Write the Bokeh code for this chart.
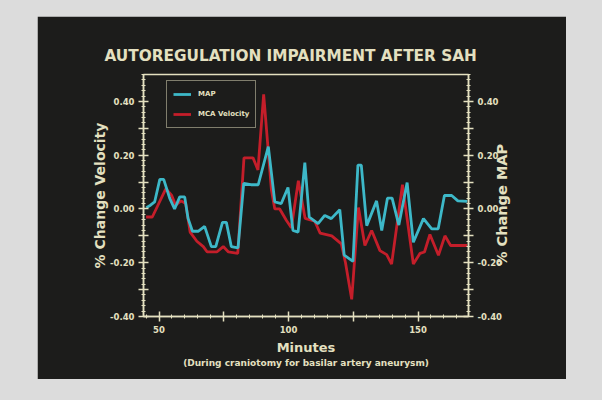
import math
from bokeh.plotting import figure
from bokeh.models import LinearAxis, Range1d, FixedTicker, Legend, LegendItem, Title
from bokeh.embed import file_html
from bokeh.resources import INLINE

# ---------------- data ----------------
title_text = "AUTOREGULATION  IMPAIRMENT  AFTER  SAH"
x_label = "Minutes"
subtitle_text = "(During craniotomy for basilar artery aneurysm)"
left_label = "% Change Velocity"
right_label = "% Change MAP"

map_minutes = [45.1, 46.7, 48.3, 50.3, 51.8, 54.1, 56.0, 58.0, 59.9, 61.2, 62.9, 65.1,
               67.6, 70.2, 71.9, 74.5, 76.0, 77.9, 80.5, 82.7, 85.5, 88.3, 92.2, 94.7,
               97.2, 99.8, 101.7, 103.7, 106.3, 108.0, 111.4, 114.0, 116.5, 119.8, 121.5,
               124.9, 126.8, 128.1, 130.2, 134.0, 136.0, 138.2, 140.0, 142.6, 145.8, 148.2,
               152.1, 155.3, 157.8, 160.2, 163.0, 165.4, 169.0]
map_values = [0.005, 0.014, 0.026, 0.110, 0.110, 0.040, 0.000, 0.045, 0.045, -0.035, -0.083, -0.083,
              -0.065, -0.140, -0.140, -0.050, -0.050, -0.140, -0.145, 0.095, 0.090, 0.090, 0.232, 0.026,
              0.020, 0.080, -0.080, -0.086, 0.172, -0.030, -0.055, -0.024, -0.036, -0.003, -0.172,
              -0.195, 0.163, 0.163, -0.062, 0.030, -0.080, 0.040, 0.040, -0.060, 0.098, -0.124,
              -0.036, -0.074, -0.074, 0.050, 0.050, 0.030, 0.028]

mca_minutes = [45.0, 47.4, 52.6, 54.9, 56.4, 58.5, 60.3, 62.0, 64.6, 67.1, 68.6, 72.3, 74.8,
               76.8, 80.4, 82.8, 86.3, 88.2, 90.4, 93.4, 94.7, 96.6, 99.2, 101.1, 103.8,
               106.4, 110.1, 112.2, 116.7, 120.4, 122.0, 124.4, 127.0, 129.5, 132.1, 135.3,
               137.9, 139.8, 144.0, 148.2, 150.8, 152.5, 154.6, 157.9, 160.4, 162.6, 169.0]
mca_values = [-0.030, -0.030, 0.075, 0.050, 0.014, 0.030, 0.020, -0.086, -0.120, -0.140, -0.160, -0.160, -0.140,
              -0.160, -0.165, 0.190, 0.190, 0.145, 0.426, 0.070, 0.000, 0.000, -0.043, -0.070, 0.105,
              -0.035, -0.045, -0.090, -0.100, -0.130, -0.200, -0.336, 0.005, -0.136, -0.080, -0.155,
              -0.170, -0.205, 0.090, -0.205, -0.165, -0.160, -0.095, -0.172, -0.100, -0.136, -0.136]

x_ticks = [50, 75, 100, 125, 150]
x_tick_labels = ["50", "", "100", "", "150"]
x_minor = [45, 50, 55, 60, 65, 70, 75, 80, 85, 90, 95, 100, 105, 110, 115, 120, 125,
           130, 135, 140, 145, 150, 155, 160, 165]
y_ticks = [-0.4, -0.3, -0.2, -0.1, 0.0, 0.1, 0.2, 0.3, 0.4]
y_tick_labels = ["-0.40", "", "-0.20", "", "0.00", "", "0.20", "", "0.40"]
y_minor = [round(-0.4 + 0.02 * i, 2) for i in range(46)]

# ---------------- style ----------------
SLIDE = "#1c1c1b"
CREAM = "#e4e0c0"
CYAN = "#3db8c8"
RED = "#c41e2a"
FONT = "DejaVu Sans"

p = figure(width=529, height=363, output_backend="svg", toolbar_location=None,
           x_range=Range1d(44, 169.5), y_range=Range1d(-0.4, 0.5),
           min_border_left=106, min_border_right=98, min_border_top=58, min_border_bottom=63,
           background_fill_color=SLIDE, border_fill_color=SLIDE,
           outline_line_color=CREAM, outline_line_width=1.5)
p.margin = (16, 0, 0, 37)
p.grid.visible = False
p.extra_y_ranges = {"right": Range1d(-0.4, 0.5)}

r_mca = p.line(mca_minutes, mca_values, line_color=RED, line_width=2.8)
r_map = p.line(map_minutes, map_values, line_color=CYAN, line_width=2.8)

right_axis = LinearAxis(y_range_name="right")
p.add_layout(right_axis, "right")

p.xaxis[0].ticker = FixedTicker(ticks=x_ticks, minor_ticks=x_minor)
p.xaxis[0].major_label_overrides = dict(zip(x_ticks, x_tick_labels))
p.xaxis[0].axis_label = x_label
for ax in (p.yaxis[0], right_axis):
    ax.ticker = FixedTicker(ticks=y_ticks, minor_ticks=y_minor)
    ax.major_label_overrides = dict(zip(y_ticks, y_tick_labels))
p.yaxis[0].axis_label = left_label

for ax in (p.xaxis[0], p.yaxis[0], right_axis):
    ax.axis_line_color = CREAM
    ax.axis_line_width = 1.5
    ax.major_tick_line_color = CREAM
    ax.minor_tick_line_color = CREAM
    ax.major_tick_line_width = 1.5
    ax.minor_tick_line_width = 1
    ax.major_tick_in = 5
    ax.major_tick_out = 5
    ax.minor_tick_in = 2
    ax.minor_tick_out = 2
    ax.major_label_text_color = CREAM
    ax.major_label_text_font = FONT
    ax.major_label_text_font_style = "bold"
    ax.major_label_text_font_size = "8.5px"
    ax.major_label_standoff = 4
    ax.axis_label_text_color = CREAM
    ax.axis_label_text_font = FONT
    ax.axis_label_text_font_style = "bold"
    ax.axis_label_text_font_size = "14px"
p.xaxis[0].axis_label_text_font_size = "13px"
p.xaxis[0].axis_label_standoff = 4
p.yaxis[0].axis_label_standoff = -1

# right-hand axis title reads bottom-to-top, like the left one.
# With a numeric orientation Bokeh starts the text at the anchor, so the label
# is anchored at the bottom of the axis and led in with non-breaking spaces.
right_axis.axis_label_orientation = math.pi / 2
right_axis.axis_label_text_font_size = "14.5px"
right_axis.axis_label_standoff = -3
if "axis_label_align" in right_axis.properties():
    right_axis.axis_label_align = "start"
    right_axis.axis_label = "\u00a0" * 10 + right_label
else:
    right_axis.axis_label = right_label

p.title.text = title_text
p.title.align = "left"
p.title.text_color = CREAM
p.title.text_font = FONT
p.title.text_font_style = "bold"
p.title.text_font_size = "15.3px"
p.title.offset = -39
p.title.standoff = 20

sub = Title(text=subtitle_text, align="center", text_color=CREAM, text_font=FONT,
            text_font_style="bold", text_font_size="9px", standoff=-3)
p.add_layout(sub, "below")

legend = Legend(items=[LegendItem(label="MAP", renderers=[r_map]),
                       LegendItem(label="MCA Velocity", renderers=[r_mca])],
                location=(23, 188), margin=0, padding=6, spacing=6,
                label_height=14, glyph_height=14, glyph_width=18, label_standoff=7,
                background_fill_color=SLIDE, background_fill_alpha=1,
                border_line_color=CREAM, border_line_width=1.5,
                label_text_color=CREAM, label_text_font=FONT, label_text_font_style="bold",
                label_text_font_size="7px")
p.add_layout(legend)

html = file_html(p, INLINE)
html = html.replace("<head>", "<head><style>html,body{background:#dcdcdc;}</style>", 1)
open("out.html", "w").write(html)
